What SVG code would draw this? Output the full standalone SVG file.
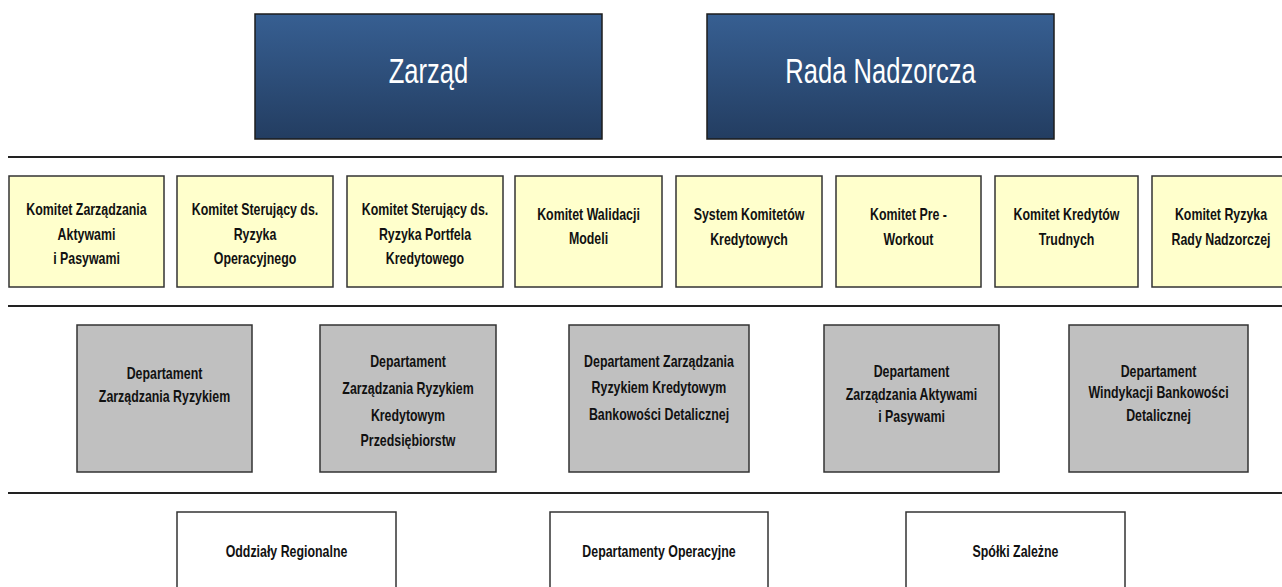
<svg xmlns="http://www.w3.org/2000/svg" width="1282" height="587" viewBox="0 0 1282 587">
<defs>
<linearGradient id="blueGrad" x1="0" y1="0" x2="0" y2="1">
<stop offset="0" stop-color="#375f92"/>
<stop offset="1" stop-color="#233d61"/>
</linearGradient>
</defs>
<style>
.title{fill:url(#blueGrad);stroke:#1c1c1c;stroke-width:1.5}
.ttext{font-family:"Liberation Sans",Arial,sans-serif;font-size:36px;fill:#ffffff;text-anchor:middle}
.kom{fill:#ffffcc;stroke:#333333;stroke-width:1.5}
.dep{fill:#c0c0c0;stroke:#333333;stroke-width:1.5}
.unit{fill:#ffffff;stroke:#333333;stroke-width:1.5}
.t{font-family:"Liberation Sans",Arial,sans-serif;font-size:16.5px;font-weight:bold;fill:#111111;text-anchor:middle}
.sep{stroke:#222222;stroke-width:2}
</style>
<rect width="1282" height="587" fill="#ffffff"/>
<g id="separators">
<line class="sep" x1="8" y1="157" x2="1282" y2="157"/>
<line class="sep" x1="8" y1="306" x2="1282" y2="306"/>
<line class="sep" x1="8" y1="493" x2="1282" y2="493"/>
</g>
<g id="zarzad"><rect class="title" x="255" y="14" width="347" height="125"/><text class="ttext" transform="translate(428.5,83) scale(0.71,1)">Zarząd</text></g>
<g id="rada"><rect class="title" x="707" y="14" width="347" height="125"/><text class="ttext" transform="translate(880.5,83) scale(0.71,1)">Rada Nadzorcza</text></g>

<g id="k1"><rect class="kom" x="9" y="176" width="155" height="111"/><text class="t" transform="translate(86.5,215) scale(0.75,1)">Komitet Zarządzania</text><text class="t" transform="translate(86.5,240) scale(0.75,1)">Aktywami</text><text class="t" transform="translate(86.5,264) scale(0.75,1)">i Pasywami</text></g>
<g id="k2"><rect class="kom" x="177" y="176" width="156" height="111"/><text class="t" transform="translate(255,215) scale(0.75,1)">Komitet Sterujący ds.</text><text class="t" transform="translate(255,240) scale(0.75,1)">Ryzyka</text><text class="t" transform="translate(255,264) scale(0.75,1)">Operacyjnego</text></g>
<g id="k3"><rect class="kom" x="347" y="176" width="156" height="111"/><text class="t" transform="translate(425,215) scale(0.75,1)">Komitet Sterujący ds.</text><text class="t" transform="translate(425,240) scale(0.75,1)">Ryzyka Portfela</text><text class="t" transform="translate(425,264) scale(0.75,1)">Kredytowego</text></g>
<g id="k4"><rect class="kom" x="515" y="176" width="147" height="111"/><text class="t" transform="translate(588.5,220) scale(0.75,1)">Komitet Walidacji</text><text class="t" transform="translate(588.5,244) scale(0.75,1)">Modeli</text></g>
<g id="k5"><rect class="kom" x="676" y="176" width="146" height="111"/><text class="t" transform="translate(749,220) scale(0.75,1)">System Komitetów</text><text class="t" transform="translate(749,245) scale(0.75,1)">Kredytowych</text></g>
<g id="k6"><rect class="kom" x="836" y="176" width="145" height="111"/><text class="t" transform="translate(908.5,220) scale(0.75,1)">Komitet Pre -</text><text class="t" transform="translate(908.5,245) scale(0.75,1)">Workout</text></g>
<g id="k7"><rect class="kom" x="995" y="176" width="143" height="111"/><text class="t" transform="translate(1066.5,220) scale(0.75,1)">Komitet Kredytów</text><text class="t" transform="translate(1066.5,245) scale(0.75,1)">Trudnych</text></g>
<g id="k8"><rect class="kom" x="1152" y="176" width="140" height="111"/><text class="t" transform="translate(1221,220) scale(0.75,1)">Komitet Ryzyka</text><text class="t" transform="translate(1221,245) scale(0.75,1)">Rady Nadzorczej</text></g>

<g id="d1"><rect class="dep" x="77" y="325" width="175" height="147"/><text class="t" transform="translate(164.5,379) scale(0.75,1)">Departament</text><text class="t" transform="translate(164.5,402) scale(0.75,1)">Zarządzania Ryzykiem</text></g>
<g id="d2"><rect class="dep" x="320" y="325" width="176" height="147"/><text class="t" transform="translate(408,367) scale(0.75,1)">Departament</text><text class="t" transform="translate(408,394) scale(0.75,1)">Zarządzania Ryzykiem</text><text class="t" transform="translate(408,421) scale(0.75,1)">Kredytowym</text><text class="t" transform="translate(408,446) scale(0.75,1)">Przedsiębiorstw</text></g>
<g id="d3"><rect class="dep" x="569" y="325" width="180" height="147"/><text class="t" transform="translate(659,367) scale(0.75,1)">Departament Zarządzania</text><text class="t" transform="translate(659,393) scale(0.75,1)">Ryzykiem Kredytowym</text><text class="t" transform="translate(659,420) scale(0.75,1)">Bankowości Detalicznej</text></g>
<g id="d4"><rect class="dep" x="824" y="325" width="175" height="147"/><text class="t" transform="translate(911.5,377) scale(0.75,1)">Departament</text><text class="t" transform="translate(911.5,400) scale(0.75,1)">Zarządzania Aktywami</text><text class="t" transform="translate(911.5,422) scale(0.75,1)">i Pasywami</text></g>
<g id="d5"><rect class="dep" x="1069" y="325" width="179" height="147"/><text class="t" transform="translate(1158.5,377) scale(0.75,1)">Departament</text><text class="t" transform="translate(1158.5,398) scale(0.75,1)">Windykacji Bankowości</text><text class="t" transform="translate(1158.5,421) scale(0.75,1)">Detalicznej</text></g>

<g id="u1"><rect class="unit" x="177" y="512" width="219" height="90"/><text class="t" transform="translate(286.5,557) scale(0.75,1)">Oddziały Regionalne</text></g>
<g id="u2"><rect class="unit" x="550" y="512" width="218" height="90"/><text class="t" transform="translate(659,557) scale(0.75,1)">Departamenty Operacyjne</text></g>
<g id="u3"><rect class="unit" x="906" y="512" width="219" height="90"/><text class="t" transform="translate(1015.5,557) scale(0.75,1)">Spółki Zależne</text></g>
</svg>
